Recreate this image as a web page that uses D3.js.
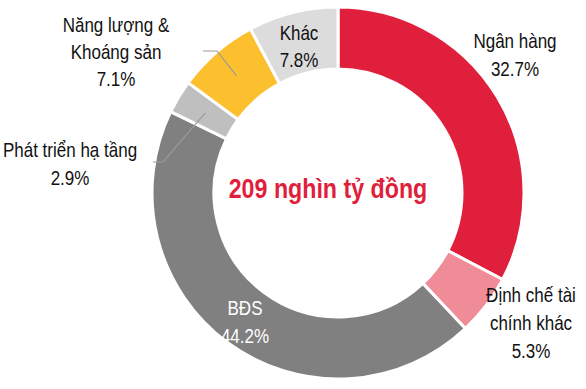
<!DOCTYPE html>
<html>
<head>
<meta charset="utf-8">
<script src="https://cdn.jsdelivr.net/npm/d3@7"></script>
<style>
  html, body { margin: 0; padding: 0; background: #fff; }
  svg text { font-family: "Liberation Sans Narrow", "Arial Narrow", "Liberation Sans", Arial, sans-serif; }
</style>
</head>
<body>
<div id="chart"></div>
<script>
// data
var categories = ["Ngân hàng", "Định chế tài chính khác", "BĐS", "Phát triển hạ tầng", "Năng lượng & Khoáng sản", "Khác"];
var shares = [32.7, 5.3, 44.2, 2.9, 7.1, 7.8];
var sliceColors = ["#e01f3d", "#f08c98", "#808080", "#bfbfbf", "#fcbf2e", "#dcdcdc"];
var labelLines = [["Ngân hàng"], ["Định chế tài", "chính khác"], ["BĐS"], ["Phát triển hạ tầng"], ["Năng lượng &", "Khoáng sản"], ["Khác"]];
var totalText = "209 nghìn tỷ đồng";

var width = 586, height = 389;
var cx = 338, cy = 193, outerR = 186, innerR = 124;
var narrow = 0.81; // no condensed font installed, squeeze horizontally

// label placement (x center, first baseline y, line step, colour, leader elbow)
var labelPos = [
  {x: 515, y: 48, step: 28, color: "#111"},
  {x: 531, y: 302, step: 28, color: "#111"},
  {x: 245, y: 315, step: 28, color: "#fff"},
  {x: 70, y: 157, step: 28, color: "#111", elbow: [163, 162], end: [153, 162]},
  {x: 116, y: 32, step: 27, color: "#111", elbow: [217, 51], end: [203, 51]},
  {x: 299, y: 40, step: 27, color: "#111"}
];

var svg = d3.select("#chart").append("svg")
  .attr("width", width)
  .attr("height", height);

var g = svg.append("g").attr("transform", "translate(" + cx + "," + cy + ")");

var pie = d3.pie().sort(null).value(function(d){ return d; });
var arcs = pie(shares);

var arc = d3.arc().innerRadius(innerR).outerRadius(outerR);
var midArc = d3.arc().innerRadius((innerR + outerR) / 2).outerRadius((innerR + outerR) / 2);

g.selectAll("path.slice")
  .data(arcs)
  .enter().append("path")
  .attr("class", "slice")
  .attr("d", arc)
  .style("fill", function(d, i){ return sliceColors[i]; })
  .style("stroke", "#fff")
  .style("stroke-width", 3);

// leader lines
arcs.forEach(function(d, i){
  var p = labelPos[i];
  if (!p.elbow) return;
  var c = midArc.centroid(d);
  svg.append("polyline")
    .attr("points", [p.end, p.elbow, [cx + c[0], cy + c[1]]].map(function(q){ return q.join(","); }).join(" "))
    .style("fill", "none")
    .style("stroke", "#9a9a9a")
    .style("stroke-width", 1.2);
});

// labels
arcs.forEach(function(d, i){
  var p = labelPos[i];
  var t = svg.append("g")
    .attr("transform", "translate(" + p.x + "," + p.y + ") scale(" + narrow + ",1)")
    .append("text")
    .attr("x", 0).attr("y", 0)
    .attr("font-size", "21px")
    .attr("fill", p.color)
    .style("text-anchor", "middle");
  var lines = labelLines[i].concat([d3.format(".1f")(shares[i]) + "%"]);
  lines.forEach(function(s, k){
    t.append("tspan")
      .attr("x", 0)
      .attr("dy", k === 0 ? 0 : p.step)
      .text(s);
  });
});

// centre total
svg.append("g")
  .attr("transform", "translate(328,198) scale(0.86,1)")
  .append("text")
  .attr("x", 0).attr("y", 0)
  .attr("font-size", "27px")
  .attr("font-weight", "bold")
  .attr("fill", "#e01f3d")
  .style("text-anchor", "middle")
  .text(totalText);
</script>
</body>
</html>
